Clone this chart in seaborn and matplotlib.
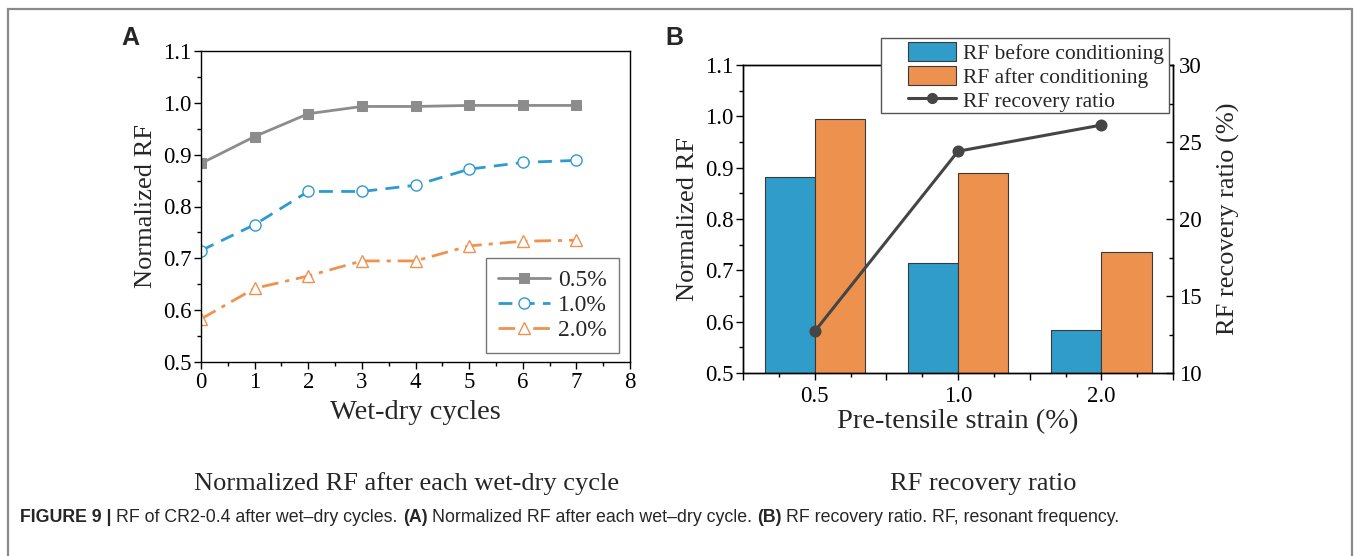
import numpy as np
import pandas as pd
import matplotlib
matplotlib.use("Agg")
import matplotlib.pyplot as plt
import seaborn as sns
from matplotlib.ticker import MultipleLocator
from matplotlib.patches import Rectangle, Patch
from matplotlib.lines import Line2D

# ---------------- data ----------------
cycles = [0, 1, 2, 3, 4, 5, 6, 7]
rf_05 = [0.883, 0.935, 0.979, 0.993, 0.993, 0.995, 0.995, 0.995]
rf_10 = [0.715, 0.765, 0.829, 0.829, 0.841, 0.872, 0.885, 0.889]
rf_20 = [0.583, 0.642, 0.666, 0.695, 0.695, 0.724, 0.733, 0.735]
series_labels = ["0.5%", "1.0%", "2.0%"]

strains = ["0.5", "1.0", "2.0"]
rf_before = [0.882, 0.715, 0.583]
rf_after = [0.995, 0.889, 0.735]
recovery_ratio = [12.7, 24.4, 26.1]
bar_labels = ["RF before conditioning", "RF after conditioning"]
line_label = "RF recovery ratio"

# ---------------- style ----------------
sns.set_style("ticks")
plt.rcParams["font.family"] = ["Liberation Serif", "DejaVu Serif"]
plt.rcParams["axes.linewidth"] = 1.0
plt.rcParams["xtick.direction"] = "out"
plt.rcParams["ytick.direction"] = "out"
plt.rcParams["xtick.color"] = "black"
plt.rcParams["ytick.color"] = "black"
plt.rcParams["axes.edgecolor"] = "black"

TICK_FS = 16.5
XLABEL_FS = 20.5
YLABEL_FS = 19

c_gray = "#8c8c8c"
c_blue = "#2e9ad0"
c_orange = "#ee924f"
c_bar_blue = "#2f9cc9"
c_bar_orange = "#ed914f"
c_line = "#454545"

W, H = 1354, 556
fig = plt.figure(figsize=(W / 100, H / 100), dpi=100)

# outer frame
fig.add_artist(Rectangle((8 / W, -0.05), (1352 - 8) / W, 1 - 9 / H + 0.05,
                         transform=fig.transFigure, fill=False,
                         edgecolor="#8a8a8a", linewidth=1.6, clip_on=False))

# ---------------- panel A ----------------
axA = fig.add_axes([201 / W, 1 - 362 / H, (630 - 201) / W, (362 - 51) / H])
dfA = pd.DataFrame({"cycle": cycles, "s05": rf_05, "s10": rf_10, "s20": rf_20})
sns.lineplot(data=dfA, x="cycle", y="s05", ax=axA, color=c_gray, linewidth=2.0,
             marker="s", markersize=7, markerfacecolor=c_gray, markeredgecolor=c_gray,
             label=series_labels[0])
sns.lineplot(data=dfA, x="cycle", y="s10", ax=axA, color=c_blue, linewidth=2.0,
             linestyle=(0, (5, 3)), marker="o", markersize=8,
             markerfacecolor="white", markeredgecolor=c_blue, markeredgewidth=1.0,
             label=series_labels[1])
sns.lineplot(data=dfA, x="cycle", y="s20", ax=axA, color=c_orange, linewidth=2.0,
             linestyle=(0, (6, 2.5, 1.5, 2.5)), marker="^", markersize=8,
             markerfacecolor="white", markeredgecolor=c_orange, markeredgewidth=1.0,
             label=series_labels[2])
axA.set_xlim(0, 8)
axA.set_ylim(0.5, 1.1)
axA.xaxis.set_major_locator(MultipleLocator(1))
axA.xaxis.set_minor_locator(MultipleLocator(0.5))
axA.yaxis.set_major_locator(MultipleLocator(0.1))
axA.yaxis.set_minor_locator(MultipleLocator(0.05))
axA.yaxis.set_major_formatter(plt.FuncFormatter(lambda v, p: f"{v:.1f}"))
axA.tick_params(axis="both", which="major", labelsize=TICK_FS, length=5, width=1.0, pad=2)
axA.tick_params(axis="both", which="minor", length=3, width=1.0)
for s in axA.spines.values():
    s.set_visible(True)
    s.set_color("black")
axA.set_xlabel("Wet-dry cycles", fontsize=XLABEL_FS, labelpad=5)
axA.set_ylabel("Normalized RF", fontsize=YLABEL_FS, labelpad=4)
legA = axA.legend(loc="lower right", bbox_to_anchor=(1 - 11 / 429, 9 / 311),
                  fontsize=17, frameon=True, fancybox=False, edgecolor="#555555",
                  handlelength=2.2, handletextpad=0.35, borderpad=0.5,
                  labelspacing=0.15, borderaxespad=0)
legA.get_frame().set_linewidth(1.0)

# ---------------- panel B ----------------
BL, BR, BT, BB = 743, 1173, 65, 373
axB = fig.add_axes([BL / W, 1 - BB / H, (BR - BL) / W, (BB - BT) / H])
dfB = pd.DataFrame({
    "strain": strains * 2,
    "rf": rf_before + rf_after,
    "kind": [bar_labels[0]] * len(strains) + [bar_labels[1]] * len(strains),
})
sns.barplot(data=dfB, x="strain", y="rf", hue="kind", ax=axB, order=strains,
            hue_order=bar_labels, palette=[c_bar_blue, c_bar_orange],
            width=0.7, edgecolor="#3a3a3a", linewidth=0.8, saturation=1,
            legend=False)
axB.set_xlim(-0.5, 2.5)
axB.set_ylim(0.5, 1.1)
axB.xaxis.set_major_locator(MultipleLocator(0.5))
axB.xaxis.set_minor_locator(MultipleLocator(0.25))
axB.xaxis.set_major_formatter(plt.FuncFormatter(
    lambda v, p: strains[int(round(v))] if abs(v - round(v)) < 1e-6 and 0 <= round(v) < len(strains) else ""))
axB.yaxis.set_major_locator(MultipleLocator(0.1))
axB.yaxis.set_minor_locator(MultipleLocator(0.05))
axB.yaxis.set_major_formatter(plt.FuncFormatter(lambda v, p: f"{v:.1f}"))
axB.tick_params(axis="y", which="major", labelsize=TICK_FS, length=5, width=1.0, pad=2)
axB.tick_params(axis="x", which="major", labelsize=TICK_FS, length=5, width=1.0, pad=4)
axB.tick_params(axis="both", which="minor", length=3, width=1.0)
axB.set_ylabel("Normalized RF", fontsize=YLABEL_FS, labelpad=4)
for s in axB.spines.values():
    s.set_visible(True)
    s.set_color("black")

axB2 = axB.twinx()
dfR = pd.DataFrame({"strain": strains, "ratio": recovery_ratio})
sns.pointplot(data=dfR, x="strain", y="ratio", ax=axB2, order=strains,
              color=c_line, markers="o", linestyles="-", errorbar=None,
              markersize=7, linewidth=2.2)
axB2.set_xlim(-0.5, 2.5)
axB2.set_ylim(10, 30)
axB2.yaxis.set_major_locator(MultipleLocator(5))
axB2.yaxis.set_minor_locator(MultipleLocator(2.5))
axB2.tick_params(axis="y", which="major", direction="in", labelsize=TICK_FS,
                 length=5, width=1.0, pad=4)
axB2.tick_params(axis="y", which="minor", direction="in", length=3, width=1.0)
axB2.set_ylabel("RF recovery ratio (%)", fontsize=YLABEL_FS, labelpad=11)
axB2.set_xlabel("")
for s in axB2.spines.values():
    s.set_visible(True)
    s.set_color("black")
axB.set_xlabel("Pre-tensile strain (%)", fontsize=XLABEL_FS, labelpad=2)

handlesB = [Patch(facecolor=c_bar_blue, edgecolor="#3a3a3a", linewidth=0.8),
            Patch(facecolor=c_bar_orange, edgecolor="#3a3a3a", linewidth=0.8),
            Line2D([], [], color=c_line, linewidth=2.2, marker="o", markersize=7)]
# legend box (drawn wider on the left, as in the original)
fig.add_artist(Rectangle((881 / W, 1 - 113 / H), (1169 - 881) / W, (113 - 38) / H,
                         transform=fig.transFigure, facecolor="white",
                         edgecolor="#555555", linewidth=1.0, zorder=9))
legB = fig.legend(handlesB, bar_labels + [line_label], loc="upper right",
                  bbox_to_anchor=(1167 / W, 1 - 39 / H), fontsize=15.5,
                  frameon=False,
                  handlelength=2.25, handleheight=1.0, handletextpad=0.3,
                  borderpad=0.15, labelspacing=0.08, borderaxespad=0)
legB.set_zorder(10)

# panel letters
fig.text(130 / W, 1 - 38 / H, "A", fontsize=18, fontweight="bold",
         family=["Liberation Sans", "DejaVu Sans"], ha="center", va="center")
fig.text(674 / W, 1 - 38 / H, "B", fontsize=18, fontweight="bold",
         family=["Liberation Sans", "DejaVu Sans"], ha="center", va="center")

# sub-captions
fig.text(407 / W, 1 - 484 / H, "Normalized RF after each wet-dry cycle", fontsize=19,
         ha="center", va="center")
fig.text(983 / W, 1 - 484 / H, "RF recovery ratio", fontsize=19,
         ha="center", va="center")

# figure caption with mixed weights
cap_parts = [("FIGURE 9 |", "bold"), ("RF of CR2-0.4 after wet\u2013dry cycles.", "normal"),
             ("(A)", "bold"), ("Normalized RF after each wet\u2013dry cycle.", "normal"),
             ("(B)", "bold"), ("RF recovery ratio. RF, resonant frequency.", "normal")]
cap_family = ["Liberation Sans Narrow", "Liberation Sans", "DejaVu Sans"]
cap_fs = 12.8
renderer = fig.canvas.get_renderer()
x_px = 20.0
y_fig = 1 - 518 / H
probe = fig.text(0, 0, "a a", fontsize=cap_fs, family=cap_family)
w1 = probe.get_window_extent(renderer).width
probe.set_text("aa")
w2 = probe.get_window_extent(renderer).width
probe.remove()
space_px = w1 - w2
for txt, wt in cap_parts:
    t = fig.text(x_px / W, y_fig, txt, fontsize=cap_fs, fontweight=wt,
                 family=cap_family, ha="left", va="center")
    x_px += t.get_window_extent(renderer).width + space_px

fig.savefig("out.png", dpi=100)
